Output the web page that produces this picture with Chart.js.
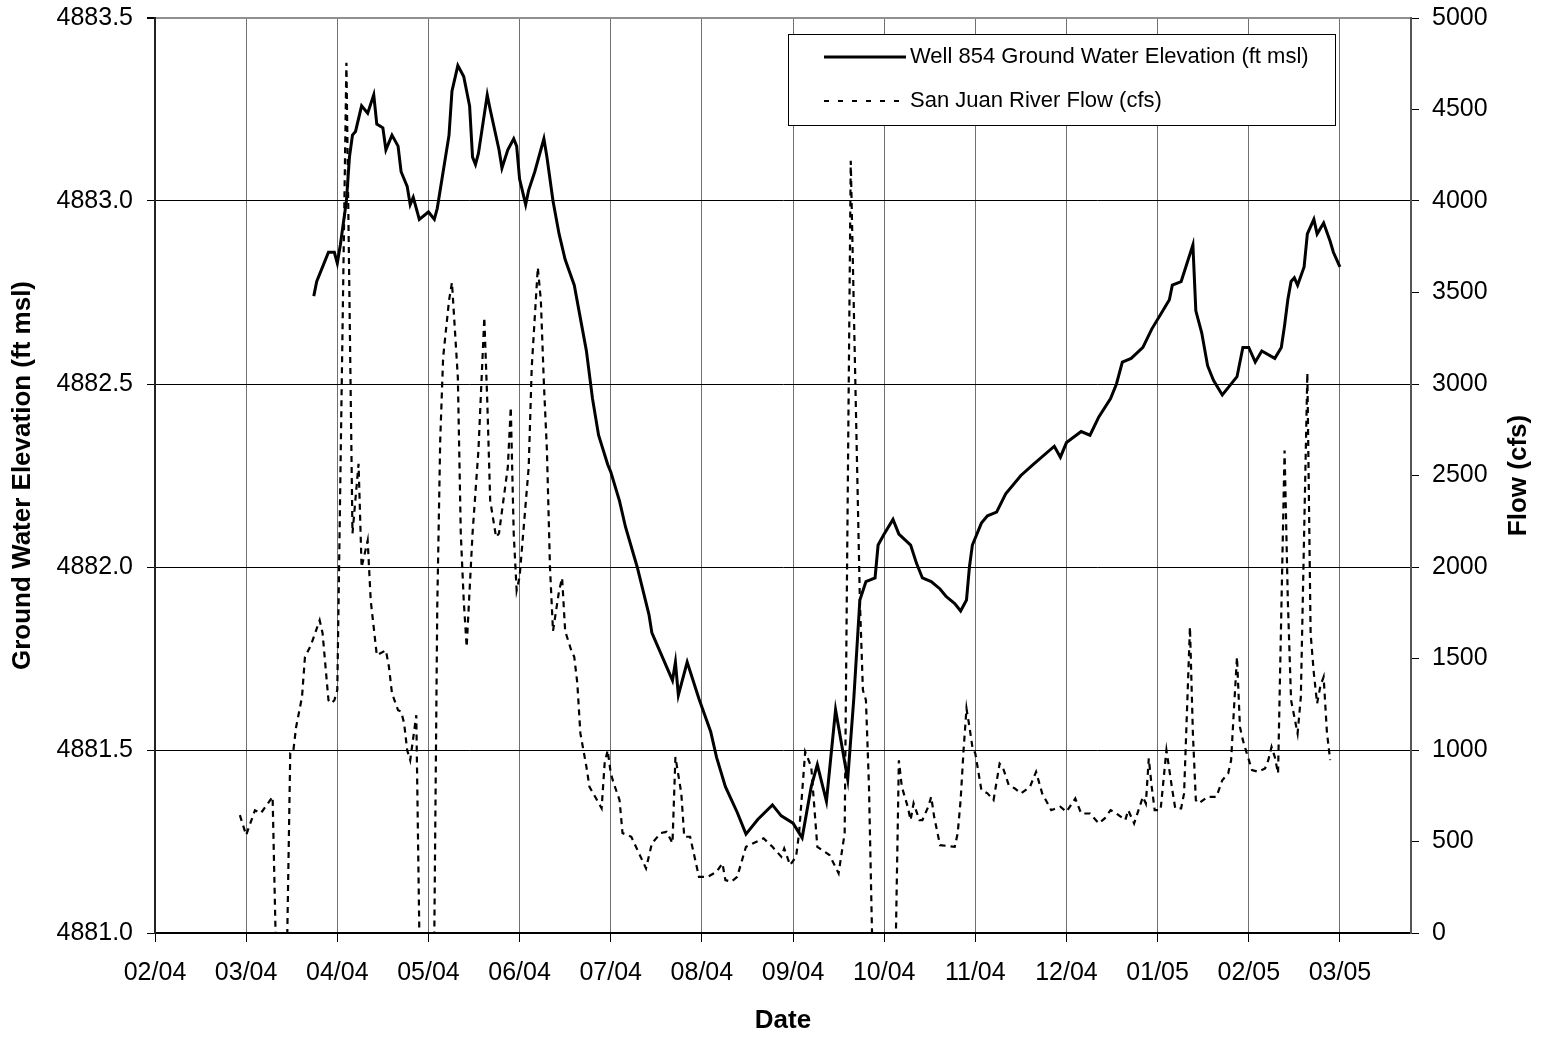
<!DOCTYPE html>
<html>
<head>
<meta charset="utf-8">
<title>Well 854 vs San Juan River Flow</title>
<script src="https://cdn.jsdelivr.net/npm/chart.js@4/dist/chart.umd.min.js"></script>
<style>
  html, body { margin: 0; padding: 0; background: #fff; }
  #wrap { width: 1543px; height: 1037px; }
</style>
</head>
<body>
<div id="wrap"><canvas id="chart" width="1543" height="1037"></canvas></div>
<script>
// month tick labels (one per gridline)
const monthLabels = ["02/04", "03/04", "04/04", "05/04", "06/04", "07/04", "08/04",
  "09/04", "10/04", "11/04", "12/04", "01/05", "02/05", "03/05"];

// Well 854 ground water elevation (ft msl)
const wellDates = [
  "2004-03-24", "2004-03-25", "2004-03-27", "2004-03-29", "2004-03-31", "2004-04-01", "2004-04-02",
  "2004-04-04", "2004-04-05", "2004-04-06", "2004-04-07", "2004-04-09", "2004-04-11", "2004-04-13",
  "2004-04-14", "2004-04-16", "2004-04-17", "2004-04-19", "2004-04-21", "2004-04-22", "2004-04-24",
  "2004-04-25", "2004-04-26", "2004-04-28", "2004-05-01", "2004-05-03", "2004-05-04", "2004-05-06",
  "2004-05-08", "2004-05-09", "2004-05-11", "2004-05-13", "2004-05-15", "2004-05-16", "2004-05-17",
  "2004-05-18", "2004-05-21", "2004-05-22", "2004-05-25", "2004-05-26", "2004-05-28", "2004-05-30",
  "2004-05-31", "2004-06-01", "2004-06-03", "2004-06-04", "2004-06-06", "2004-06-08", "2004-06-09",
  "2004-06-10", "2004-06-12", "2004-06-14", "2004-06-16", "2004-06-19", "2004-06-21", "2004-06-23",
  "2004-06-25", "2004-06-27", "2004-06-30", "2004-07-01", "2004-07-04", "2004-07-06", "2004-07-10",
  "2004-07-14", "2004-07-15", "2004-07-22", "2004-07-23", "2004-07-24", "2004-07-27", "2004-07-31",
  "2004-08-04", "2004-08-06", "2004-08-09", "2004-08-13", "2004-08-16", "2004-08-20", "2004-08-25",
  "2004-08-28", "2004-09-01", "2004-09-04", "2004-09-07", "2004-09-09", "2004-09-12", "2004-09-15",
  "2004-09-19", "2004-09-21", "2004-09-23", "2004-09-25", "2004-09-28", "2004-09-29", "2004-10-01",
  "2004-10-04", "2004-10-06", "2004-10-10", "2004-10-12", "2004-10-14", "2004-10-17", "2004-10-20",
  "2004-10-22", "2004-10-25", "2004-10-27", "2004-10-29", "2004-10-30", "2004-10-31", "2004-11-03",
  "2004-11-05", "2004-11-08", "2004-11-11", "2004-11-16", "2004-11-20", "2004-11-27", "2004-11-29",
  "2004-12-01", "2004-12-06", "2004-12-09", "2004-12-12", "2004-12-16", "2004-12-18", "2004-12-20",
  "2004-12-23", "2004-12-27", "2004-12-30", "2005-01-02", "2005-01-05", "2005-01-06", "2005-01-09",
  "2005-01-11", "2005-01-13", "2005-01-14", "2005-01-16", "2005-01-18", "2005-01-20", "2005-01-23",
  "2005-01-25", "2005-01-28", "2005-01-30", "2005-02-01", "2005-02-03", "2005-02-05", "2005-02-09",
  "2005-02-11", "2005-02-12", "2005-02-13", "2005-02-14", "2005-02-15", "2005-02-16", "2005-02-18",
  "2005-02-19", "2005-02-21", "2005-02-22", "2005-02-24", "2005-02-26", "2005-02-27", "2005-03-01"
];
const wellLevels = [
  4882.74, 4882.78, 4882.82, 4882.86, 4882.86, 4882.83, 4882.88,
  4883.00, 4883.12, 4883.18, 4883.19, 4883.26, 4883.24, 4883.29,
  4883.21, 4883.20, 4883.14, 4883.18, 4883.15, 4883.08, 4883.04,
  4882.99, 4883.01, 4882.95, 4882.97, 4882.95, 4882.98, 4883.08,
  4883.18, 4883.30, 4883.37, 4883.34, 4883.26, 4883.12, 4883.10,
  4883.13, 4883.29, 4883.25, 4883.14, 4883.09, 4883.14, 4883.17,
  4883.15, 4883.06, 4882.99, 4883.03, 4883.08, 4883.14, 4883.17,
  4883.12, 4883.00, 4882.91, 4882.84, 4882.77, 4882.68, 4882.59,
  4882.46, 4882.36, 4882.28, 4882.26, 4882.18, 4882.11, 4882.00,
  4881.87, 4881.82, 4881.69, 4881.74, 4881.65, 4881.74, 4881.64,
  4881.55, 4881.48, 4881.40, 4881.33, 4881.27, 4881.31, 4881.35,
  4881.32, 4881.30, 4881.26, 4881.40, 4881.46, 4881.36, 4881.61,
  4881.42, 4881.64, 4881.91, 4881.96, 4881.97, 4882.06, 4882.09,
  4882.13, 4882.09, 4882.06, 4882.01, 4881.97, 4881.96, 4881.94,
  4881.92, 4881.90, 4881.88, 4881.91, 4882.00, 4882.06, 4882.12,
  4882.14, 4882.15, 4882.20, 4882.25, 4882.28, 4882.33, 4882.30,
  4882.34, 4882.37, 4882.36, 4882.41, 4882.46, 4882.50, 4882.56,
  4882.57, 4882.60, 4882.65, 4882.69, 4882.73, 4882.77, 4882.78,
  4882.83, 4882.88, 4882.70, 4882.64, 4882.55, 4882.51, 4882.47,
  4882.49, 4882.52, 4882.60, 4882.60, 4882.56, 4882.59, 4882.57,
  4882.60, 4882.66, 4882.73, 4882.78, 4882.79, 4882.77, 4882.82,
  4882.91, 4882.95, 4882.91, 4882.94, 4882.89, 4882.86, 4882.82
];

// San Juan River flow (cfs)
const flowDates = [
  "2004-02-28", "2004-03-01", "2004-03-04", "2004-03-06", "2004-03-10", "2004-03-11", "2004-03-15",
  "2004-03-16", "2004-03-17", "2004-03-18", "2004-03-20", "2004-03-21", "2004-03-23", "2004-03-26",
  "2004-03-27", "2004-03-28", "2004-03-29", "2004-03-30", "2004-03-31", "2004-04-01", "2004-04-04",
  "2004-04-06", "2004-04-08", "2004-04-09", "2004-04-11", "2004-04-12", "2004-04-14", "2004-04-17",
  "2004-04-18", "2004-04-19", "2004-04-21", "2004-04-22", "2004-04-23", "2004-04-24", "2004-04-25",
  "2004-04-27", "2004-04-28", "2004-05-03", "2004-05-04", "2004-05-05", "2004-05-06", "2004-05-08",
  "2004-05-09", "2004-05-11", "2004-05-12", "2004-05-13", "2004-05-14", "2004-05-16", "2004-05-18",
  "2004-05-20", "2004-05-21", "2004-05-22", "2004-05-24", "2004-05-25", "2004-05-28", "2004-05-29",
  "2004-05-30", "2004-05-31", "2004-06-01", "2004-06-04", "2004-06-05", "2004-06-07", "2004-06-08",
  "2004-06-09", "2004-06-10", "2004-06-11", "2004-06-12", "2004-06-14", "2004-06-15", "2004-06-16",
  "2004-06-18", "2004-06-19", "2004-06-20", "2004-06-21", "2004-06-23", "2004-06-24", "2004-06-28",
  "2004-06-29", "2004-06-30", "2004-07-01", "2004-07-02", "2004-07-04", "2004-07-05", "2004-07-08",
  "2004-07-13", "2004-07-15", "2004-07-18", "2004-07-20", "2004-07-22", "2004-07-23", "2004-07-25",
  "2004-07-26", "2004-07-28", "2004-07-31", "2004-08-03", "2004-08-06", "2004-08-08", "2004-08-09",
  "2004-08-11", "2004-08-13", "2004-08-16", "2004-08-22", "2004-08-25", "2004-08-28", "2004-08-29",
  "2004-08-31", "2004-09-02", "2004-09-03", "2004-09-05", "2004-09-07", "2004-09-09", "2004-09-13",
  "2004-09-16", "2004-09-18", "2004-09-20", "2004-09-23", "2004-09-24", "2004-09-25", "2004-09-26",
  "2004-09-27", "2004-10-05", "2004-10-06", "2004-10-07", "2004-10-09", "2004-10-10", "2004-10-11",
  "2004-10-13", "2004-10-14", "2004-10-16", "2004-10-17", "2004-10-18", "2004-10-20", "2004-10-25",
  "2004-10-26", "2004-10-27", "2004-10-28", "2004-10-29", "2004-10-30", "2004-10-31", "2004-11-01",
  "2004-11-03", "2004-11-05", "2004-11-07", "2004-11-09", "2004-11-10", "2004-11-12", "2004-11-14",
  "2004-11-16", "2004-11-19", "2004-11-21", "2004-11-23", "2004-11-26", "2004-11-29", "2004-12-01",
  "2004-12-04", "2004-12-06", "2004-12-09", "2004-12-12", "2004-12-14", "2004-12-16", "2004-12-18",
  "2004-12-21", "2004-12-22", "2004-12-24", "2004-12-27", "2004-12-28", "2004-12-29", "2004-12-30",
  "2004-12-31", "2005-01-02", "2005-01-04", "2005-01-06", "2005-01-07", "2005-01-09", "2005-01-10",
  "2005-01-12", "2005-01-13", "2005-01-14", "2005-01-15", "2005-01-18", "2005-01-21", "2005-01-23",
  "2005-01-25", "2005-01-26", "2005-01-27", "2005-01-28", "2005-01-29", "2005-01-30", "2005-01-31",
  "2005-02-02", "2005-02-04", "2005-02-06", "2005-02-07", "2005-02-08", "2005-02-09", "2005-02-10",
  "2005-02-12", "2005-02-13", "2005-02-14", "2005-02-15", "2005-02-16", "2005-02-17", "2005-02-19",
  "2005-02-20", "2005-02-21", "2005-02-22", "2005-02-23", "2005-02-24", "2005-02-25", "2005-02-26"
];
const flowValues = [
  644, 535, 671, 655, 744, 0, 0,
  983, 990, 1126, 1290, 1508, 1572, 1709,
  1638, 1454, 1272, 1255, 1272, 1327, 4756,
  2184, 2564, 1998, 2145, 1818, 1518, 1545,
  1454, 1310, 1217, 1210, 1146, 999, 944,
  1190, 0, 0, 1781, 2691, 3146, 3456,
  3555, 3037, 2184, 1818, 1563, 2184, 2637,
  3364, 2910, 2364, 2163, 2184, 2546, 2873,
  2184, 1872, 1945, 2546, 3091, 3637, 3456,
  3002, 2637, 2000, 1650, 1870, 1940, 1650,
  1545, 1508, 1365, 1092, 908, 799, 682,
  928, 999, 873, 819, 726, 546, 526,
  353, 490, 546, 553, 491, 962, 764,
  526, 526, 307, 307, 335, 380, 289,
  280, 307, 471, 517, 471, 417, 462,
  371, 417, 546, 990, 908, 471, 426,
  326, 546, 4220, 1818, 1327, 1272, 800,
  0, 0, 944, 799, 690, 617, 709,
  617, 617, 690, 744, 635, 480, 471,
  544, 726, 999, 1227, 1126, 1017, 981,
  781, 763, 726, 926, 908, 808, 790,
  763, 799, 881, 763, 671, 690, 662,
  735, 653, 653, 599, 626, 671, 653,
  617, 671, 599, 744, 708, 954, 799,
  671, 671, 999, 781, 681, 681, 763,
  1672, 1090, 726, 708, 744, 744, 835,
  872, 944, 1235, 1508, 1126, 1054, 999,
  890, 881, 899, 944, 1017, 962, 872,
  2637, 1818, 1272, 1181, 1090, 1290, 3061,
  1636, 1418, 1254, 1350, 1399, 1100, 944
];

// months since Feb 2004, each month the same width like the original date axis
function monthPos(s) {
  const [y, m, d] = s.split("-").map(Number);
  const days = new Date(y, m, 0).getDate();
  return (y - 2004) * 12 + (m - 2) + (d - 1) / days;
}

const FONT = "'Liberation Sans', Arial, sans-serif";

// legend box drawn inside the plot, like the spreadsheet one
const boxLegend = {
  id: "boxLegend",
  afterDraw(chart) {
    const ctx = chart.ctx;
    const x0 = 788, y0 = 34, w = 547, h = 91;
    ctx.save();
    ctx.fillStyle = "#fff";
    ctx.fillRect(x0, y0, w, h);
    ctx.strokeStyle = "#000";
    ctx.lineWidth = 1;
    ctx.strokeRect(x0 + 0.5, y0 + 0.5, w, h);
    const rows = [57, 101];
    chart.data.datasets.forEach((ds, i) => {
      const y = rows[i];
      ctx.beginPath();
      ctx.strokeStyle = ds.borderColor;
      ctx.lineWidth = ds.borderWidth;
      ctx.setLineDash(i === 1 ? [5, 9] : []);
      ctx.moveTo(824, y);
      ctx.lineTo(906, y);
      ctx.stroke();
      ctx.setLineDash([]);
      ctx.fillStyle = "#000";
      ctx.font = "22px " + FONT;
      ctx.textAlign = "left";
      ctx.textBaseline = "middle";
      ctx.fillText(ds.label, 910, y);
    });
    ctx.restore();
  }
};

// right axis title reads bottom-to-top in the original
const rightTitle = {
  id: "rightTitle",
  afterDraw(chart) {
    const ctx = chart.ctx;
    const area = chart.chartArea;
    ctx.save();
    ctx.translate(1519, (area.top + area.bottom) / 2);
    ctx.rotate(-Math.PI / 2);
    ctx.fillStyle = "#000";
    ctx.font = "bold 26px " + FONT;
    ctx.textAlign = "center";
    ctx.textBaseline = "middle";
    ctx.fillText("Flow (cfs)", 0, 0);
    ctx.restore();
  }
};

// fixed axis widths, and no extra label padding above/below the plot
function fixWidth(w) {
  return (scale) => {
    scale.width = w;
    scale.paddingTop = 0;
    scale.paddingBottom = 0;
  };
}

new Chart(document.getElementById("chart"), {
  type: "line",
  data: {
    datasets: [{
      label: "Well 854 Ground Water Elevation (ft msl)",
      data: wellDates.map((d, i) => ({ x: monthPos(d), y: wellLevels[i] })),
      yAxisID: "y",
      borderColor: "#000",
      borderWidth: 3,
      pointRadius: 0,
      tension: 0,
      order: 0
    }, {
      label: "San Juan River Flow (cfs)",
      data: flowDates.map((d, i) => ({ x: monthPos(d), y: flowValues[i] })),
      yAxisID: "y1",
      borderColor: "#000",
      borderWidth: 2.2,
      borderDash: [6, 5],
      pointRadius: 0,
      tension: 0,
      order: 1
    }]
  },
  options: {
    responsive: false,
    animation: false,
    devicePixelRatio: 1,
    layout: { padding: { top: 18, left: 0, right: 0, bottom: 0 } },
    plugins: {
      legend: { display: false },
      tooltip: { enabled: false }
    },
    scales: {
      x: {
        type: "linear",
        min: 0,
        max: 13.78,
        afterBuildTicks: (scale) => {
          scale.ticks = monthLabels.map((_, i) => ({ value: i }));
        },
        afterFit: (scale) => { scale.height = 104; },
        ticks: {
          autoSkip: false,
          maxRotation: 0,
          padding: 16,
          color: "#000",
          font: { family: FONT, size: 25 },
          callback: (v) => monthLabels[v] ?? ""
        },
        grid: { color: "#707070", lineWidth: 1, tickLength: 9, tickColor: "#000" },
        border: { color: "#000", width: 2 },
        title: {
          display: true,
          text: "Date",
          color: "#000",
          font: { family: FONT, size: 26, weight: "bold" },
          padding: { top: 0, bottom: 1 }
        }
      },
      y: {
        position: "left",
        min: 4881,
        max: 4883.5,
        afterFit: fixWidth(155),
        ticks: {
          stepSize: 0.5,
          padding: 14,
          color: "#000",
          font: { family: FONT, size: 25 },
          callback: (v) => Number(v).toFixed(1)
        },
        grid: {
          color: (c) => (c.tick && c.tick.value === 4883.5 ? "#909090" : "#000"),
          lineWidth: (c) => (c.tick && c.tick.value === 4883.5 ? 2 : 1),
          tickLength: 8,
          tickColor: "#000"
        },
        border: { color: "#222", width: 2 },
        title: {
          display: true,
          text: "Ground Water Elevation (ft msl)",
          color: "#000",
          font: { family: FONT, size: 26, weight: "bold" },
          padding: { top: 7, bottom: 0 }
        }
      },
      y1: {
        position: "right",
        min: 0,
        max: 5000,
        afterFit: fixWidth(132),
        ticks: {
          stepSize: 500,
          padding: 13,
          color: "#000",
          font: { family: FONT, size: 25 },
          callback: (v) => String(v)
        },
        grid: { drawOnChartArea: false, tickLength: 8, tickColor: "#000" },
        border: { color: "#555", width: 2 }
      }
    }
  },
  plugins: [boxLegend, rightTitle]
});
</script>
</body>
</html>
